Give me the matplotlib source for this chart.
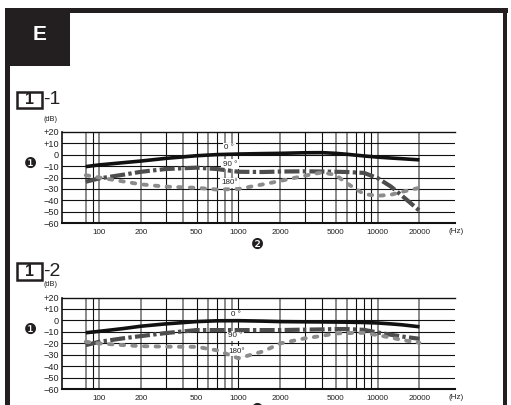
import matplotlib
matplotlib.use("Agg")
import matplotlib.pyplot as plt
from matplotlib.patches import Rectangle

# ---- data ----
freqs = [80, 100, 150, 200, 300, 500, 700, 1000, 1500, 2000, 3000, 4000,
         5000, 6000, 8000, 10000, 12500, 15000, 20000]

# chart 1-1
c1_0 = [-10.5, -9, -7, -5.6, -3.3, -1, 0, 0.5, 0.9, 1.1, 1.6, 1.7,
        1.1, 0.3, -1.2, -2.2, -3, -3.6, -4.6]
c1_90 = [-23.7, -20.8, -17.5, -15, -12.6, -11.4, -12.6, -15, -15.2, -14.8, -14.6, -14.8,
         -15, -15.2, -16, -20.5, -28, -36, -49]
c1_180 = [-18, -20, -23.5, -26, -28, -29, -30.5, -30, -26, -23, -18.4, -15.5,
          -17.8, -25, -34.5, -36, -35, -32.5, -29]

# chart 1-2
c2_0 = [-10.7, -9.5, -7, -5, -3, -1, -0.3, -0.2, -0.6, -1, -1.2, -1.3,
        -1.4, -1.5, -1.8, -2.2, -3, -3.8, -5.5]
c2_90 = [-21.5, -18.6, -15.5, -13.6, -11, -8.4, -8.4, -8.4, -8.4, -8.4, -8, -7.8,
         -7.5, -7.5, -8.2, -10.5, -12.5, -14, -16]
c2_180 = [-18.6, -20, -21.5, -22.4, -22.8, -23, -26, -33, -27, -20, -15.6, -13.4,
          -11.3, -11, -10.8, -12.8, -15, -17, -19.5]

grid_freqs = [80, 90, 100, 200, 300, 400, 500, 600, 700, 800, 900, 1000,
              2000, 3000, 4000, 5000, 6000, 7000, 8000, 9000, 10000, 20000]
grid_dark = [False, True, False, False, True, False, True, False, True, False, False, True,
             False, True, True, False, False, True, True, True, False, False]

xtick_vals = [100, 200, 500, 1000, 2000, 5000, 10000, 20000]
xtick_labels = ["100", "200", "500", "1000", "2000", "5000", "10000", "20000"]
ytick_vals = [20, 10, 0, -10, -20, -30, -40, -50, -60]
ytick_labels = ["+20", "+10", "0", "\u221210", "\u221220", "\u221230", "\u221240", "\u221250", "\u221260"]

angle_labels = ["0 \u00b0", "90 \u00b0", "180\u00b0"]

W, H = 511, 405
FONT = "Liberation Sans"
INK = "#231f20"


def px(x, y):
    return x / W, 1 - y / H


def draw_chart(ax, c0, c90, c180, label_pos):
    ax.set_xscale("log")
    ax.set_xlim(54, 36000)
    ax.set_ylim(-60, 20)
    for f, dark in zip(grid_freqs, grid_dark):
        if dark:
            ax.axvline(f, color="#111111", lw=0.8, zorder=1)
        else:
            ax.axvline(f, color="#8a8a8a", lw=1.4, zorder=1)
    for v in ytick_vals[1:-1]:
        ax.axhline(v, color="#111111", lw=0.8, zorder=1)

    ax.plot(freqs, c0, color="#111111", lw=2.6, solid_capstyle="butt", zorder=4)
    ax.plot(freqs, c90, color="#4d4d4d", lw=3.0, linestyle=(0, (3.6, 0.8, 0.8, 0.8)),
            dash_capstyle="butt", zorder=3)
    ax.plot(freqs, c180, color="#8c8c8c", lw=2.8, linestyle=(0, (0.9, 2.1)),
            dash_capstyle="round", zorder=3)

    for txt, (f, v) in zip(angle_labels, label_pos):
        ax.text(f, v, txt, ha="center", va="center", fontsize=5.8, family=FONT,
                color="#222222", zorder=2.5,
                bbox=dict(facecolor="white", edgecolor="none", pad=1.0))

    ax.set_xticks(xtick_vals)
    ax.set_xticklabels(xtick_labels)
    ax.minorticks_off()
    ax.set_yticks(ytick_vals)
    ax.set_yticklabels(ytick_labels)
    ax.tick_params(length=0, colors="#222222")
    ax.tick_params(axis="x", pad=4, labelsize=5.8)
    ax.tick_params(axis="y", pad=2, labelsize=6.6)
    for lab in ax.get_xticklabels() + ax.get_yticklabels():
        lab.set_family(FONT)
    ax.spines["right"].set_visible(False)
    ax.spines["top"].set_linewidth(1.0)
    ax.spines["left"].set_linewidth(1.2)
    ax.spines["bottom"].set_linewidth(1.5)
    for s in ax.spines.values():
        s.set_color("#111111")


def header(fig, y_top, sub):
    # boxed "1" and suffix
    x0, y0 = px(16.7, y_top + 16.6)
    fig.patches.append(Rectangle((x0, y0), 25 / W, 16.6 / H, transform=fig.transFigure,
                                 facecolor="white", edgecolor=INK, lw=1.8))
    yc = y_top + 8.3
    fig.text(*px(29.2, yc), "1", ha="center", va="center", fontsize=11.5,
             fontweight="bold", family=FONT, color=INK)
    fig.text(*px(43, yc), sub, ha="left", va="center", fontsize=14,
             family=FONT, color=INK)


fig = plt.figure(figsize=(W / 100, H / 100), dpi=100)

# frame
fig.patches.append(Rectangle(px(5, 13), 502.5 / W, 5 / H, transform=fig.transFigure,
                             facecolor=INK, edgecolor="none"))
fig.patches.append(Rectangle(px(5, 405), 5 / W, 397 / H, transform=fig.transFigure,
                             facecolor=INK, edgecolor="none"))
fig.patches.append(Rectangle(px(503.3, 405), 4 / W, 397 / H, transform=fig.transFigure,
                             facecolor=INK, edgecolor="none"))
fig.patches.append(Rectangle(px(5, 66), 65 / W, 58 / H, transform=fig.transFigure,
                             facecolor=INK, edgecolor="none"))
fig.text(*px(40, 35), "E", ha="center", va="center", fontsize=15, fontweight="bold",
         family=FONT, color="white")

ax1 = fig.add_axes([62 / W, 1 - 223.3 / H, 393 / W, 91.6 / H])
draw_chart(ax1, c1_0, c1_90, c1_180, [(860, 5.8), (870, -8.3), (860, -24.7)])
ax2 = fig.add_axes([62 / W, 1 - 389.3 / H, 393 / W, 91.8 / H])
draw_chart(ax2, c2_0, c2_90, c2_180, [(960, 4.8), (950, -13.5), (975, -26.7)])

header(fig, 91.7, "-1")
header(fig, 263.3, "-2")

for y_db, y_c, y_hz in [(119.3, 163, 231.5), (284.3, 329, 397.5)]:
    fig.text(*px(50.7, y_db), "(dB)", ha="center", va="center", fontsize=5.3,
             family=FONT, color="#222222")
    fig.text(*px(30, y_c), "\u2776", ha="center", va="center", fontsize=10.5,
             family="DejaVu Sans", color=INK)
    fig.text(*px(456, y_hz), "(Hz)", ha="center", va="center", fontsize=5.8,
             family=FONT, color="#222222")

fig.text(*px(257, 244.3), "\u2777", ha="center", va="center", fontsize=10.5,
         family="DejaVu Sans", color=INK)
# second marker sits at the bottom edge, cut off as in the reference
fig.text(*px(257, 409), "\u2777", ha="center", va="center", fontsize=10.5,
         family="DejaVu Sans", color=INK)

fig.savefig("out.png", dpi=100)
